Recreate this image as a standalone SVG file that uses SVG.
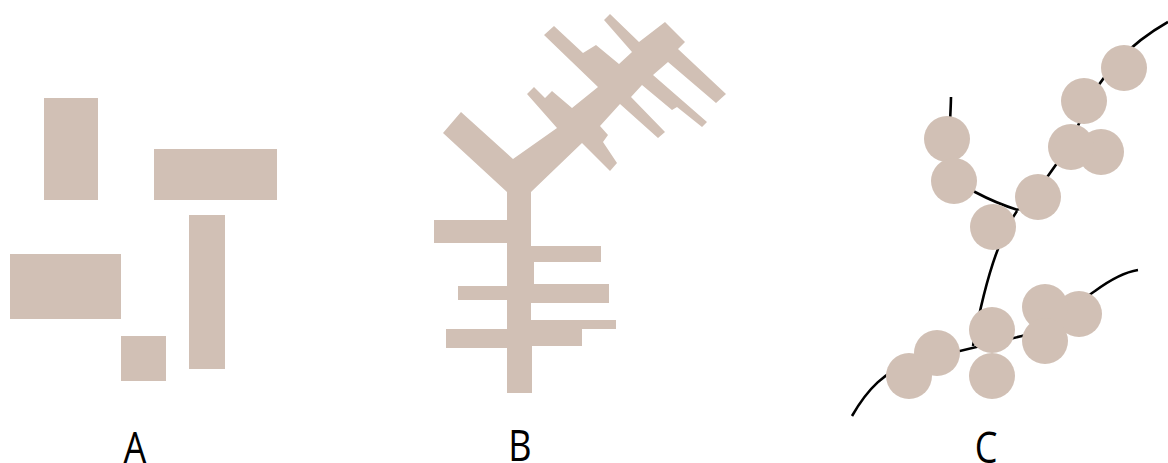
<svg xmlns="http://www.w3.org/2000/svg" width="1168" height="463" viewBox="0 0 1168 463">
<style>
.f{fill:#d1c0b5;stroke:none}
.ln{fill:none;stroke:#000;stroke-width:2.6;stroke-linecap:butt}
.lab{font-family:"Open Sans","Liberation Sans",sans-serif;font-size:44px;fill:#000;text-anchor:middle}
</style>
<rect width="1168" height="463" fill="#fff"/>
<g id="panel-a">
<rect class="f" x="44" y="98" width="54" height="102"/>
<rect class="f" x="154" y="149" width="123" height="51"/>
<rect class="f" x="10" y="254" width="111" height="65"/>
<rect class="f" x="189" y="215" width="36" height="154"/>
<rect class="f" x="121" y="336" width="45" height="45"/>
</g>
<g id="panel-b">
<polygon class="f" points="443,133 461,112 513,159 557,128 527,94 534,87 545,98 552,91 572,108 598,87 544,35 554,26 583,53 596,45 619,64 632,52 604,20 610,14 639,42 665,22 685,42 678,49 726,94 716,103 668,62 653,75 707,122 702,127 677,107 672,110 642,85 631,97 665,132 658,138 620,104 600,126 608,135 603,142 617,163 610,171 582,143 531,192 531,246 601,246 601,262 534,262 534,284 609,284 609,303 531,303 531,320 616,320 616,329 582,329 582,346 532,346 532,393 507,393 507,348 446,348 446,329 507,329 507,300 458,300 458,286 507,286 507,243 434,243 434,220 507,220 507,192"/>
</g>
<g id="panel-c">
<g id="connectors">
<path class="ln" d="M951,97 C950,150 940,175 975,192 C990,200 1005,206 1018,210"/>
<path class="ln" d="M1018,210 Q1060,170 1085,110 Q1110,55 1168,22"/>
<path class="ln" d="M1017,211 C1000,235 985,280 973,346"/>
<path class="ln" d="M852,416 C868,388 885,372 910,363 L1022,336 C1060,326 1080,300 1095,291 C1110,280 1125,272 1138,270"/>
</g>
<g id="dots">
<circle class="f" cx="947" cy="139" r="23"/>
<circle class="f" cx="954" cy="181" r="23"/>
<circle class="f" cx="993" cy="227" r="23"/>
<circle class="f" cx="1038" cy="197" r="23"/>
<circle class="f" cx="1101" cy="152" r="23"/>
<circle class="f" cx="1071" cy="147" r="23"/>
<circle class="f" cx="1084" cy="101" r="23"/>
<circle class="f" cx="1124" cy="68" r="23"/>
<circle class="f" cx="992" cy="330" r="23"/>
<circle class="f" cx="992" cy="376" r="23"/>
<circle class="f" cx="937" cy="353" r="23"/>
<circle class="f" cx="909" cy="376" r="23"/>
<circle class="f" cx="1079" cy="314" r="23"/>
<circle class="f" cx="1045" cy="307" r="23"/>
<circle class="f" cx="1045" cy="341" r="23"/>
</g>
</g>
<g id="labels">
<text class="lab" transform="translate(135,463) scale(0.82,1)">A</text>
<text class="lab" transform="translate(520,461) scale(0.82,1)">B</text>
<text class="lab" transform="translate(986,463) scale(0.82,1)">C</text>
</g>
</svg>
